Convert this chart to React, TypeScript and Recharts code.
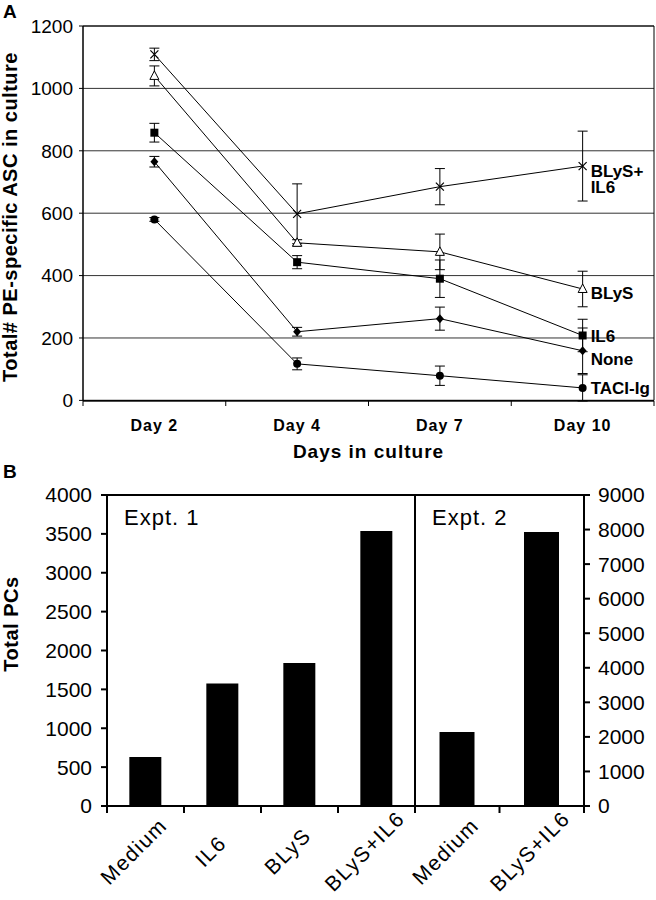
import React from 'react';
import { LineChart, Line, XAxis, YAxis, CartesianGrid, ErrorBar, ReferenceArea, BarChart, Bar } from 'recharts';

const FONT = 'Liberation Sans, Arial, Helvetica, sans-serif';

// panel A: PE-specific ASC over time
const days = ['Day 2', 'Day 4', 'Day 7', 'Day 10'];
const blysIl6 = [1109, 598, 685, 751];
const blysIl6Err = [20, 96, 58, 112];
const blys = [1040, 505, 476, 357];
const blysErr = [32, 10, 57, 57];
const il6 = [858, 443, 390, 208];
const il6Err = [30, 21, 60, 52];
const none = [765, 220, 262, 159];
const noneErr = [17, 14, 37, 73];
const taci = [580, 117, 79, 40];
const taciErr = [6, 19, 31, 42];
const ascTicks = [0, 200, 400, 600, 800, 1000, 1200];

// panel B: total PCs
const expt1Groups = ['Medium', 'IL6', 'BLyS', 'BLyS+IL6'];
const expt1Values = [630, 1574, 1839, 3537];
const expt2Groups = ['Medium', 'BLyS+IL6'];
const expt2Values = [2141, 7929];
const leftTicks = [0, 500, 1000, 1500, 2000, 2500, 3000, 3500, 4000];
const rightTicks = [0, 1000, 2000, 3000, 4000, 5000, 6000, 7000, 8000, 9000];

const lineRows = days.map((day, i) => ({
  day,
  blysIl6: blysIl6[i], blysIl6Err: blysIl6Err[i],
  blys: blys[i], blysErr: blysErr[i],
  il6: il6[i], il6Err: il6Err[i],
  none: none[i], noneErr: noneErr[i],
  taci: taci[i], taciErr: taciErr[i],
}));

const expt1Rows = expt1Groups.map((group, i) => ({ group, count: expt1Values[i] }));
const expt2Rows = expt2Groups.map((group, i) => ({ group, count: expt2Values[i] }));

const series = [
  { key: 'blysIl6', err: 'blysIl6Err', shape: 'cross', label: ['BLyS+', 'IL6'], labelDy: 11 },
  { key: 'blys', err: 'blysErr', shape: 'triangle', label: ['BLyS'], labelDy: 10 },
  { key: 'il6', err: 'il6Err', shape: 'square', label: ['IL6'], labelDy: 7 },
  { key: 'none', err: 'noneErr', shape: 'diamond', label: ['None'], labelDy: 14 },
  { key: 'taci', err: 'taciErr', shape: 'circle', label: ['TACI-Ig'], labelDy: 6 },
];

const Marker = ({ shape, cx, cy }: { shape: string; cx: number; cy: number }) => {
  switch (shape) {
    case 'cross':
      return <path d={`M${cx - 4},${cy - 4}L${cx + 4},${cy + 4}M${cx - 4},${cy + 4}L${cx + 4},${cy - 4}`} stroke="#000" strokeWidth={1.2} fill="none" />;
    case 'triangle':
      return <path d={`M${cx},${cy - 5}L${cx + 4.5},${cy + 3.5}L${cx - 4.5},${cy + 3.5}Z`} fill="#fff" stroke="#000" />;
    case 'square':
      return <rect x={cx - 4} y={cy - 4} width={8} height={8} fill="#000" />;
    case 'diamond':
      return <path d={`M${cx},${cy - 4.5}L${cx + 4},${cy}L${cx},${cy + 4.5}L${cx - 4},${cy}Z`} fill="#000" />;
    default:
      return <circle cx={cx} cy={cy} r={4} fill="#000" />;
  }
};

const makeDot = (s: typeof series[number]) => (p: any) => {
  const isLast = p.index === days.length - 1;
  return (
    <g key={`${s.key}-${p.index}`}>
      <Marker shape={s.shape} cx={p.cx} cy={p.cy} />
      {isLast && (
        <text x={p.cx + 8} y={p.cy + s.labelDy} fontSize={17} fontWeight="bold" fontFamily={FONT} fill="#000">
          {s.label.map((t, i) => (
            <tspan key={t} x={p.cx + 8} dy={i === 0 ? 0 : 16}>{t}</tspan>
          ))}
        </text>
      )}
    </g>
  );
};

const DayTick = (p: any) => {
  const half = p.width / p.visibleTicksCount / 2;
  const last = p.index === p.visibleTicksCount - 1;
  return (
    <g>
      <line x1={p.x - half} x2={p.x - half} y1={p.y} y2={p.y + 5} stroke="#000" />
      {last && <line x1={p.x + half} x2={p.x + half} y1={p.y} y2={p.y + 5} stroke="#000" />}
      <text x={p.x} y={p.y + 30} textAnchor="middle" fontSize={16} fontWeight="bold" letterSpacing={1} fontFamily={FONT} fill="#000">
        {p.payload.value}
      </text>
    </g>
  );
};

const GroupTick = (p: any) => {
  const half = p.width / p.visibleTicksCount / 2;
  const last = p.index === p.visibleTicksCount - 1;
  const cx = p.x - 12;
  const cy = p.y + 45;
  return (
    <g>
      <line x1={p.x - half} x2={p.x - half} y1={p.y} y2={p.y + 7} stroke="#000" strokeWidth={2} />
      {last && <line x1={p.x + half} x2={p.x + half} y1={p.y} y2={p.y + 7} stroke="#000" strokeWidth={2} />}
      <text x={cx} y={cy} transform={`rotate(-45 ${cx} ${cy})`} textAnchor="middle" dominantBaseline="central"
        fontSize={21} letterSpacing={1.5} fontFamily={FONT} fill="#000">
        {p.payload.value}
      </text>
    </g>
  );
};

const boldText = { fontFamily: FONT, fontWeight: 'bold' as const, fill: '#000' };

export default function App() {
  return (
    <div style={{ position: 'absolute', left: 0, top: 0, width: 656, height: 900, background: '#fff', fontFamily: FONT }}>
      <div style={{ position: 'absolute', left: 0, top: 0 }}>
        <LineChart width={656} height={470} data={lineRows} margin={{ top: 26, right: 2, bottom: 0, left: 23 }}>
          <CartesianGrid vertical={false} stroke="#333" />
          <XAxis dataKey="day" scale="band" height={69} interval={0} axisLine={{ stroke: '#000' }} tickLine={false}
            tickSize={0} tickMargin={0} tick={(p: any) => <DayTick {...p} />} />
          <YAxis width={60} domain={[0, 1200]} ticks={ascTicks} interval={0} tickSize={4} tickMargin={6}
            axisLine={{ stroke: '#000' }} tickLine={{ stroke: '#000' }}
            tick={{ fontSize: 19, fill: '#000', fontFamily: FONT }} />
          <ReferenceArea x1="Day 2" x2="Day 10" y1={0} y2={1200} fill="none" stroke="#000" />
          {series.map((s) => (
            <Line key={s.key} dataKey={s.key} stroke="#000" strokeWidth={1} type="linear"
              dot={makeDot(s)} activeDot={false} isAnimationActive={false}>
              <ErrorBar dataKey={s.err} width={5} stroke="#000" strokeWidth={1} direction="y" />
            </Line>
          ))}
          <text x={3} y={18} fontSize={19} {...boldText}>A</text>
          <text x={10} y={217} transform="rotate(-90 10 217)" textAnchor="middle" dominantBaseline="central"
            fontSize={20} letterSpacing={0.5} {...boldText}>Total# PE-specific ASC in culture</text>
          <text x={368.5} y={458} textAnchor="middle" fontSize={19} letterSpacing={1} {...boldText}>Days in culture</text>
        </LineChart>
      </div>
      <div style={{ position: 'absolute', left: 0, top: 450 }}>
        <BarChart width={656} height={450} data={expt1Rows} barCategoryGap="29%"
          margin={{ top: 45, right: 241, bottom: 0, left: 47 }}>
          <XAxis dataKey="group" height={94} interval={0} axisLine={{ stroke: '#000', strokeWidth: 2 }} tickLine={false}
            tickSize={0} tickMargin={0} tick={(p: any) => <GroupTick {...p} />} />
          <YAxis width={60} domain={[0, 4000]} ticks={leftTicks} interval={0} tickSize={6} tickMargin={9}
            axisLine={{ stroke: '#000', strokeWidth: 2 }} tickLine={{ stroke: '#000', strokeWidth: 2 }}
            tick={{ fontSize: 21, fill: '#000', fontFamily: FONT }} />
          <Bar dataKey="count" fill="#000" isAnimationActive={false} />
          <ReferenceArea x1="Medium" x2="BLyS+IL6" y1={0} y2={4000} fill="none" stroke="#000" strokeWidth={2} />
          <text x={3} y={28} fontSize={19} {...boldText}>B</text>
          <text x={11} y={174} transform="rotate(-90 11 174)" textAnchor="middle" dominantBaseline="central"
            fontSize={20} letterSpacing={0.5} {...boldText}>Total PCs</text>
          <text x={124} y={75} fontSize={22} letterSpacing={1} fontFamily={FONT} fill="#000">Expt. 1</text>
        </BarChart>
      </div>
      <div style={{ position: 'absolute', left: 0, top: 450 }}>
        <BarChart width={656} height={450} data={expt2Rows} barCategoryGap="29%"
          margin={{ top: 45, right: 12, bottom: 0, left: 415 }}>
          <XAxis dataKey="group" height={94} interval={0} axisLine={{ stroke: '#000', strokeWidth: 2 }} tickLine={false}
            tickSize={0} tickMargin={0} tick={(p: any) => <GroupTick {...p} />} />
          <YAxis yAxisId="r" orientation="right" width={60} domain={[0, 9000]} ticks={rightTicks} interval={0}
            tickSize={6} tickMargin={8} axisLine={{ stroke: '#000', strokeWidth: 2 }} tickLine={{ stroke: '#000', strokeWidth: 2 }}
            tick={{ fontSize: 21, fill: '#000', fontFamily: FONT }} />
          <Bar yAxisId="r" dataKey="count" fill="#000" isAnimationActive={false} />
          <ReferenceArea yAxisId="r" x1="Medium" x2="BLyS+IL6" y1={0} y2={9000} fill="none" stroke="#000" strokeWidth={2} />
          <text x={432} y={75} fontSize={22} letterSpacing={1} fontFamily={FONT} fill="#000">Expt. 2</text>
        </BarChart>
      </div>
    </div>
  );
}
